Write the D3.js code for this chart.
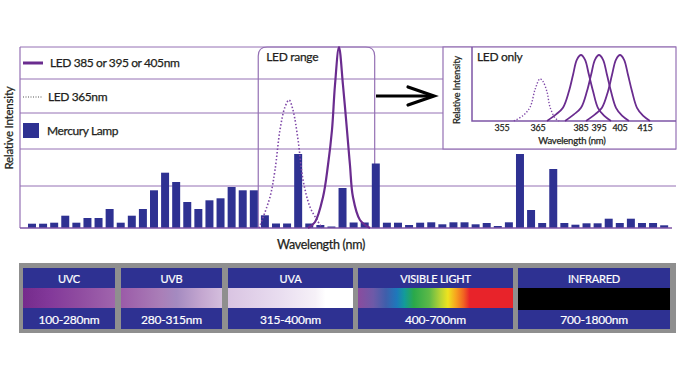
<!DOCTYPE html>
<html>
<head>
<meta charset="utf-8">
<script src="https://d3js.org/d3.v7.min.js"></script>
<style>
  body { margin: 0; background: #fff; }
  text { font-family: Lato, 'Open Sans', sans-serif; fill: #231f20; stroke: #231f20; stroke-width: 0.25px; }
  .strip text { fill: #fff; stroke: #fff; stroke-width: 0.2px; }
</style>
</head>
<body>
<svg></svg>
<script>
    // Mercury lamp lines, one bar per slot, left to right (relative intensity)
    var hgSlots = d3.range(58);
    var hgIntensity = [4.3, 4.3, 5.3, 12.3, 5.3, 10, 10, 19, 5.3, 12.3, 19, 37.7, 55.3, 46, 26, 19, 27.7, 29.7,
        41, 37.7, 37.7, 12.7, 4.5, 4.5, 74, 4.5, 3, 1.5, 40, 5.5, 5.5, 64.5, 5.3, 5.3, 3, 5.3, 5.7, 3.7, 5.7,
        5.7, 3.7, 5, 2, 5.7, 74, 18, 5, 59, 5, 3.3, 4.7, 4.7, 9.3, 5, 9.3, 5, 5, 2.7];

    // LED curves on the main chart (slot units / relative intensity)
    var ledSlots = [25.39, 26.02, 26.74, 27.19, 27.55, 27.82, 28.18, 28.54, 28.9, 29.17, 29.44, 30.07, 30.98];
    var ledMain = [0, 6, 31, 63, 98, 143, 181, 143, 98, 63, 31, 8, 0];
    var led365Slots = [20.97, 21.96, 22.41, 22.86, 23.31, 23.68, 24.03, 24.49, 24.94, 25.57, 26.2, 26.65];
    var led365Main = [0, 31, 58, 98, 121, 128, 118, 88, 48, 21, 8, 0];
    var ledRangeSlots = [20.9, 31.4];
    var gridLevels = [42, 79, 115, 149, 181];

    // Inset "LED only"
    var insetTicks = [355, 365, 385, 395, 405, 415];
    var led365Nm = [358.3, 360.8, 362.8, 364.2, 365.9, 367.3, 369.2, 370.6, 372.9, 374.8];
    var led365Rel = [0, 8, 21, 48, 64, 60, 44, 21, 5, 0];
    var led385Nm = [369.2, 373.4, 376.6, 379.4, 381.3, 383.1, 385, 387.2, 389.4, 391.7, 394.4, 397.4, 400.7];
    var led395Nm = [377.6, 381.7, 385, 388.3, 390.6, 392.8, 395, 396.9, 398.8, 400.7, 403.1, 405.8, 408.6];
    var led405Nm = [387.8, 392.8, 396.4, 399.3, 401.2, 403.1, 405, 406.6, 408.2, 409.8, 411.8, 414.2, 417];
    var ledRel = [0, 10, 20, 45, 70, 93, 100, 93, 70, 45, 20, 8, 0];

    // Spectrum strip
    var bandNames = ['UVC', 'UVB', 'UVA', 'VISIBLE LIGHT', 'INFRARED'];
    var bandRanges = ['100-280nm', '280-315nm', '315-400nm', '400-700nm', '700-1800nm'];

    var purple = '#6a2c8f', grid = '#9470b4', navy = '#2e3192';

    var svg = d3.select('svg').attr('width', 680).attr('height', 380);

    var x = d3.scaleBand().domain(hgSlots).range([26.45, 669.7]).paddingInner(0.28).paddingOuter(0.14);
    var xs = d3.scaleLinear().domain([0, 58]).range([26.45, 669.7]);
    var y = d3.scaleLinear().domain([0, 181]).range([228, 47]);

    // Grid / legend rows
    var g = svg.append('g');
    gridLevels.forEach(function (v) {
        var short = (v === 115 || v === 149);
        g.append('line')
            .attr('x1', 20).attr('x2', short ? 443 : 676)
            .attr('y1', y(v)).attr('y2', y(v))
            .attr('stroke', grid).attr('stroke-width', 1);
    });
    g.append('line').attr('x1', 20).attr('x2', 20).attr('y1', 47).attr('y2', 228)
        .attr('stroke', grid).attr('stroke-width', 1.2);

    // LED range box
    var bx0 = xs(ledRangeSlots[0]), bx1 = xs(ledRangeSlots[1]), r = 9;
    g.append('path')
        .attr('d', 'M' + bx0 + ',228V' + (47 + r) + 'Q' + bx0 + ',47 ' + (bx0 + r) + ',47H' + (bx1 - r) +
            'Q' + bx1 + ',47 ' + bx1 + ',' + (47 + r) + 'V228')
        .attr('fill', 'none').attr('stroke', grid).attr('stroke-width', 1.2);
    g.append('text').attr('x', bx0 + 8).attr('y', 61).attr('font-size', 12).attr('letter-spacing', -0.3)
        .text('LED range');

    // Bars
    g.selectAll('rect.hg').data(hgIntensity).enter().append('rect')
        .attr('class', 'hg')
        .attr('x', function (d, i) { return x(i); })
        .attr('width', x.bandwidth())
        .attr('y', function (d) { return y(d); })
        .attr('height', function (d) { return 228 - y(d); })
        .attr('fill', navy);

    g.append('line').attr('x1', 20).attr('x2', 672).attr('y1', 228).attr('y2', 228)
        .attr('stroke', '#7e55a6').attr('stroke-width', 1.5);

    var mainLine = d3.line()
        .x(function (d) { return xs(d[0]); })
        .y(function (d) { return y(d[1]); })
        .curve(d3.curveCatmullRom);

    g.append('path').datum(d3.zip(led365Slots, led365Main))
        .attr('d', mainLine).attr('fill', 'none')
        .attr('stroke', '#7f48a8').attr('stroke-width', 1.6).attr('stroke-dasharray', '1.5,2');
    g.append('path').datum(d3.zip(ledSlots, ledMain))
        .attr('d', mainLine).attr('fill', 'none')
        .attr('stroke', purple).attr('stroke-width', 2.2);

    // Legend
    g.append('line').attr('x1', 23).attr('x2', 43).attr('y1', 63).attr('y2', 63)
        .attr('stroke', purple).attr('stroke-width', 3);
    g.append('text').attr('x', 50).attr('y', 67).attr('font-size', 12).attr('letter-spacing', -0.4)
        .text('LED 385 or 395 or 405nm');
    g.append('line').attr('x1', 23).attr('x2', 42).attr('y1', 97).attr('y2', 97)
        .attr('stroke', '#555').attr('stroke-width', 1.2).attr('stroke-dasharray', '1,1.5');
    g.append('text').attr('x', 48).attr('y', 101).attr('font-size', 12).attr('letter-spacing', -0.4)
        .text('LED 365nm');
    g.append('rect').attr('x', 23).attr('y', 123).attr('width', 16).attr('height', 15).attr('fill', navy);
    g.append('text').attr('x', 47).attr('y', 135).attr('font-size', 12).attr('letter-spacing', -0.4)
        .text('Mercury Lamp');

    // Axis titles
    g.append('text').attr('transform', 'translate(13,128) rotate(-90)')
        .attr('text-anchor', 'middle').attr('font-size', 11.5).attr('letter-spacing', -0.2)
        .text('Relative Intensity');
    g.append('text').attr('x', 321).attr('y', 249)
        .attr('text-anchor', 'middle').attr('font-size', 12.5).attr('letter-spacing', -0.3)
        .text('Wavelength (nm)');

    // Arrow
    g.append('line').attr('x1', 376).attr('x2', 433).attr('y1', 96).attr('y2', 96)
        .attr('stroke', '#000').attr('stroke-width', 3);
    g.append('path').attr('d', 'M408,87L434,96L408,105')
        .attr('fill', 'none').attr('stroke', '#000').attr('stroke-width', 3.2)
        .attr('stroke-linejoin', 'miter').attr('stroke-linecap', 'round');

    // Inset
    var ins = svg.append('g');
    ins.append('rect').attr('x', 443).attr('y', 47).attr('width', 233).attr('height', 102)
        .attr('fill', '#fff').attr('stroke', grid).attr('stroke-width', 1.2);
    var ix = d3.scaleLinear().domain(insetTicks).range([502, 538, 581, 599, 620, 645]);
    var iy = d3.scaleLinear().domain([0, 100]).range([121, 55]);
    ins.append('path').attr('d', 'M472,47V121H676')
        .attr('fill', 'none').attr('stroke', '#7e55a6').attr('stroke-width', 1.5);
    ins.selectAll('text.tick').data(insetTicks).enter().append('text')
        .attr('class', 'tick')
        .attr('x', function (d) { return ix(d); }).attr('y', 130.5)
        .attr('text-anchor', 'middle').attr('font-size', 9).attr('letter-spacing', -0.3)
        .text(function (d) { return d; });
    ins.append('text').attr('x', 572).attr('y', 143.5).attr('text-anchor', 'middle')
        .attr('font-size', 9.5).attr('letter-spacing', -0.2).text('Wavelength (nm)');
    ins.append('text').attr('transform', 'translate(460,90) rotate(-90)')
        .attr('text-anchor', 'middle').attr('font-size', 9.5).attr('letter-spacing', -0.2)
        .text('Relative Intensity');
    ins.append('text').attr('x', 477).attr('y', 61).attr('font-size', 12).attr('letter-spacing', -0.3)
        .text('LED only');

    var insetLine = d3.line()
        .x(function (d) { return ix(d[0]); })
        .y(function (d) { return iy(d[1]); })
        .curve(d3.curveCatmullRom);
    ins.append('path').datum(d3.zip(led365Nm, led365Rel)).attr('d', insetLine)
        .attr('fill', 'none').attr('stroke', '#7f48a8').attr('stroke-width', 1.4)
        .attr('stroke-dasharray', '1.3,1.8');
    [led385Nm, led395Nm, led405Nm].forEach(function (nm) {
        ins.append('path').datum(d3.zip(nm, ledRel)).attr('d', insetLine)
            .attr('fill', 'none').attr('stroke', purple).attr('stroke-width', 1.8);
    });

    // Spectrum strip
    var panelX = [23, 121, 228, 358, 518], panelW = [92, 101, 125, 155, 152];
    var gradStops = [
        [[0, '#752b8c'], [0.3, '#83399a'], [0.6, '#8f4ba0'], [1, '#a065ad']],
        [[0, '#9b5ba8'], [0.4, '#aa7fb8'], [0.55, '#a48ac0'], [0.8, '#c4a7d0'], [1, '#d4bedd']],
        [[0, '#d9c4e2'], [0.4, '#e8dcef'], [0.7, '#f6f1f8'], [0.78, '#ffffff'], [1, '#ffffff']],
        [[0, '#8a4c9e'], [0.1, '#6d5aa8'], [0.18, '#3f5eab'], [0.25, '#1e78bb'], [0.3, '#139b9a'],
            [0.36, '#2aa94a'], [0.46, '#5db947'], [0.53, '#b5d335'], [0.58, '#eee31f'], [0.63, '#f7a51e'],
            [0.68, '#f16522'], [0.72, '#e8232a'], [1, '#e8232a']],
        [[0, '#000'], [1, '#000']]
    ];
    var defs = svg.append('defs');
    gradStops.forEach(function (stops, i) {
        var lg = defs.append('linearGradient').attr('id', 'band' + i);
        stops.forEach(function (s) {
            lg.append('stop').attr('offset', s[0]).attr('stop-color', s[1]);
        });
    });

    var strip = svg.append('g').attr('class', 'strip');
    strip.append('rect').attr('x', 19).attr('y', 263).attr('width', 657).attr('height', 70).attr('fill', '#8f8f8f');
    bandNames.forEach(function (name, i) {
        var px = panelX[i], pw = panelW[i];
        strip.append('rect').attr('x', px).attr('y', 268).attr('width', pw).attr('height', 61).attr('fill', navy);
        strip.append('rect').attr('x', px).attr('y', 288).attr('width', pw).attr('height', i === 4 ? 22 : 20)
            .attr('fill', 'url(#band' + i + ')');
        strip.append('text').attr('x', px + pw / 2).attr('y', 283).attr('text-anchor', 'middle')
            .attr('font-size', 11).attr('letter-spacing', -0.2).text(name);
        strip.append('text').attr('x', px + pw / 2).attr('y', 324).attr('text-anchor', 'middle')
            .attr('font-size', 12).attr('letter-spacing', -0.2).text(bandRanges[i]);
    });
</script>
</body>
</html>
